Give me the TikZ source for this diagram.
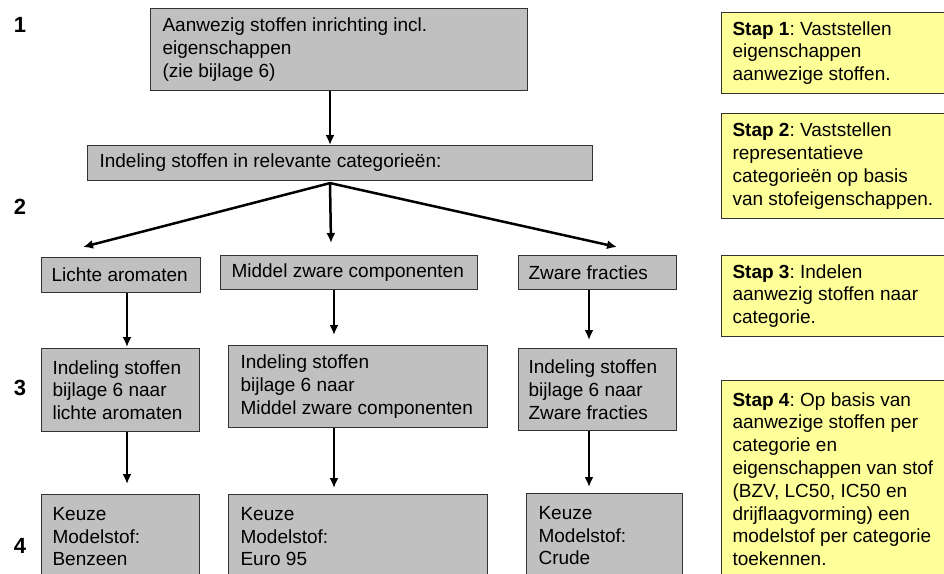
\documentclass[tikz,border=0pt]{standalone}
\usepackage{fontspec}
\setmainfont{Liberation Sans}
\usetikzlibrary{arrows.meta}
\definecolor{boxgray}{HTML}{C0C0C0}
\definecolor{stapyellow}{HTML}{FFFF99}
\definecolor{edgegray}{HTML}{333333}
\frenchspacing
\tikzset{
  x=1pt, y=-1pt,
  gbox/.style={draw=edgegray, line width=1.1pt, fill=boxgray, anchor=north west,
    inner xsep=11pt, inner ysep=2pt, align=flush left,
    font=\fontsize{19}{22.8}\selectfont},
  ybox/.style={gbox, fill=stapyellow},
  arr/.style={draw=black, line width=2.5pt, -{Latex[length=10pt,width=9pt]}},
  stepnum/.style={font=\fontsize{22}{24}\selectfont\bfseries, inner sep=0pt}
}
\begin{document}
\begin{tikzpicture}
\useasboundingbox (0,0) rectangle (944,573);
% step numbers
\node[stepnum] (n1) at (20,25) {1};
\node[stepnum] (n2) at (20,207) {2};
\node[stepnum] (n3) at (20,388) {3};
\node[stepnum] (n4) at (20,546) {4};
% flow boxes
\node[gbox, inner xsep=12pt, text width=353pt, minimum height=82pt] (top) at (150,8)
  {Aanwezig stoffen inrichting incl.\\eigenschappen\\(zie bijlage 6)};
\node[gbox, inner xsep=12pt, text width=481pt, minimum height=35pt] (ind) at (87,145)
  {Indeling stoffen in relevante categorieën:};
\node[gbox, inner xsep=10pt, text width=139pt, minimum height=35pt] (la) at (41,257) {Lichte aromaten};
\node[gbox, text width=235pt, minimum height=34pt] (mz) at (220,255) {Middel zware componenten};
\node[gbox, inner xsep=10pt, text width=138pt, minimum height=34pt] (zf) at (518,255) {Zware fracties};
\node[gbox, text width=136pt, minimum height=83pt] (i1) at (41,348)
  {Indeling stoffen\\bijlage 6 naar\\lichte aromaten};
\node[gbox, inner xsep=12pt, text width=235pt, minimum height=82pt] (i2) at (228,345)
  {Indeling stoffen\\bijlage 6 naar\\Middel zware componenten};
\node[gbox, inner xsep=10pt, text width=138pt, minimum height=82pt] (i3) at (518,348)
  {Indeling stoffen\\bijlage 6 naar\\Zware fracties};
\node[gbox, text width=136pt, minimum height=84pt] (k1) at (41,494)
  {Keuze\\Modelstof:\\Benzeen};
\node[gbox, inner xsep=12pt, text width=235pt, minimum height=84pt] (k2) at (228,494)
  {Keuze\\Modelstof:\\Euro 95};
\node[gbox, inner xsep=12pt, text width=132pt, minimum height=84pt] (k3) at (526,493)
  {Keuze\\Modelstof:\\Crude};
% step descriptions
\node[ybox, text width=215pt, minimum height=81pt] (s1) at (721,12)
  {\textbf{Stap 1}: Vaststellen\\eigenschappen\\aanwezige stoffen.};
\node[ybox, text width=215pt, minimum height=105pt] (s2) at (721,113)
  {\textbf{Stap 2}: Vaststellen\\representatieve\\categorieën op basis\\van stofeigenschappen.};
\node[ybox, text width=215pt, minimum height=81pt] (s3) at (721,255)
  {\textbf{Stap 3}: Indelen\\aanwezig stoffen naar\\categorie.};
\node[ybox, text width=215pt, minimum height=197pt] (s4) at (721,380)
  {\textbf{Stap 4}: Op basis van\\aanwezige stoffen per\\categorie en\\eigenschappen van stof\\(BZV, LC50, IC50 en\\drijflaagvorming) een\\modelstof per categorie\\toekennen.};
% connectors
\coordinate (cx) at (330,0);
\coordinate (endL) at (83,247);
\coordinate (endM) at (331,243);
\coordinate (endR) at (617,247);
\coordinate (c1) at (127,0);
\coordinate (c2) at (334,0);
\coordinate (c3) at (589,0);
\draw[arr] (top.south -| cx) -- (ind.north -| cx);
\draw[arr] ([yshift=-2pt]ind.south -| cx) -- (endL);
\draw[arr] ([yshift=-2pt]ind.south -| cx) -- (endM);
\draw[arr] ([yshift=-2pt]ind.south -| cx) -- (endR);
\draw[arr, shorten >=1pt] (la.south -| c1) -- (i1.north -| c1);
\draw[arr, shorten >=10pt] (mz.south -| c2) -- (i2.north -| c2);
\draw[arr, shorten >=8pt] (zf.south -| c3) -- (i3.north -| c3);
\draw[arr, shorten >=10pt] (i1.south -| c1) -- (k1.north -| c1);
\draw[arr, shorten >=6pt] (i2.south -| c2) -- (k2.north -| c2);
\draw[arr, shorten >=6pt] (i3.south -| c3) -- (k3.north -| c3);
\end{tikzpicture}
\end{document}
